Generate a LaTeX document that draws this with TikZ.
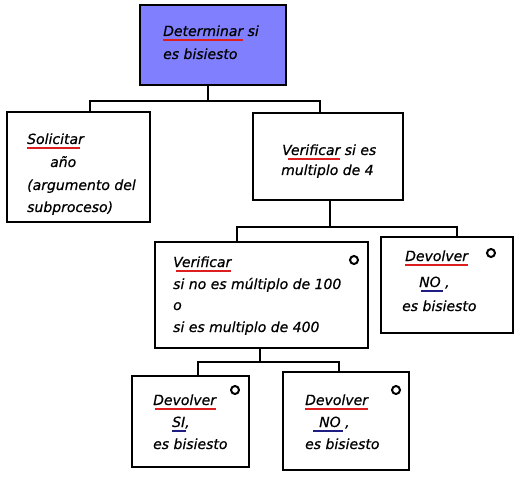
\documentclass[tikz,border=0pt]{standalone}
\usepackage{fontspec}
\setmainfont{DejaVu Sans}[ItalicFeatures={FakeBold=0.6}]
\definecolor{topfill}{RGB}{128,128,255}
\definecolor{ulred}{RGB}{220,30,30}
\definecolor{ulblue}{RGB}{30,30,130}
\newsavebox\ulbox
\newcommand\ulwordx[4]{\sbox\ulbox{#4}\rlap{\hspace*{-#1}\color{#3}\rule[-5.2pt]{\dimexpr\wd\ulbox+#1+#2\relax}{2.3pt}}\usebox\ulbox}
\newcommand\ulword[2]{\ulwordx{0pt}{0pt}{#1}{#2}}
\begin{document}
\begin{tikzpicture}[x=1pt,y=-1pt,
  box/.style={draw, line width=2.6pt, inner sep=0pt},
  conn/.style={line width=2.6pt},
  txt/.style={anchor=base west, inner sep=0pt, font=\fontsize{14}{17}\selectfont\itshape},
  seqmark/.style={draw, circle, line width=2pt, minimum size=8pt, inner sep=0pt}]
\fill[white] (0,0) rectangle (516,478);
\useasboundingbox (0,0) rectangle (516,478);

% boxes
\node[box, fill=topfill, minimum width=146pt, minimum height=80pt] (top) at (213,45) {};
\node[box, minimum width=143pt, minimum height=110pt] (left) at (78.5,167) {};
\node[box, minimum width=150pt, minimum height=87pt] (verif4) at (328,156.5) {};
\node[box, minimum width=213pt, minimum height=106pt] (verifno) at (261.5,295) {};
\node[box, minimum width=132pt, minimum height=96pt] (devno1) at (447,285) {};
\node[box, minimum width=117pt, minimum height=91pt] (devsi) at (190.5,421.5) {};
\node[box, minimum width=126pt, minimum height=98pt] (devno2) at (346,421) {};

% connectors
\coordinate (b1c) at (208,101);
\coordinate (b1l) at (90,101);
\coordinate (b1r) at (320,101);
\draw[conn] (top.south -| b1c) -- (b1c);
\draw[conn] (left.north -| b1l) -- (b1l) -- (b1r) -- (verif4.north -| b1r);

\coordinate (b2c) at (330,227);
\coordinate (b2l) at (237,227);
\coordinate (b2r) at (457,227);
\draw[conn] (verif4.south -| b2c) -- (b2c);
\draw[conn] (verifno.north -| b2l) -- (b2l) -- (b2r) -- (devno1.north -| b2r);

\coordinate (b3c) at (260,362);
\coordinate (b3l) at (198,362);
\coordinate (b3r) at (339,362);
\draw[conn] (verifno.south -| b3c) -- (b3c);
\draw[conn] (devsi.north -| b3l) -- (b3l) -- (b3r) -- (devno2.north -| b3r);

% selection marks
\node[seqmark] (m1) at (354,260) {};
\node[seqmark] (m2) at (491,253) {};
\node[seqmark] (m3) at (235,390) {};
\node[seqmark] (m4) at (396,390) {};

% texts
\node[txt] (t1) at (163,36) {\ulword{ulred}{Determinar} si};
\node[txt] (t2) at (163,59) {es bisiesto};

\node[txt] (s1) at (27,144) {\ulwordx{0pt}{-4pt}{ulred}{Solicitar}};
\node[txt] (s2) at (50,167) {año};
\node[txt] (s3) at (27,190) {(argumento del};
\node[txt] (s4) at (27,212) {subproceso)};

\node[txt] (v1) at (282,155) {\ulwordx{-6pt}{0pt}{ulred}{Verificar} si es};
\node[txt] (v2) at (281,175) {multiplo de 4};

\node[txt] (w1) at (173,267) {\ulwordx{-3pt}{0pt}{ulred}{Verificar}};
\node[txt] (w2) at (173,289) {si no es múltiplo de 100};
\node[txt] (w3) at (173,310) {o};
\node[txt] (w4) at (173,332) {si es multiplo de 400};

\node[txt] (n1) at (405,261) {\ulword{ulred}{Devolver}};
\node[txt] (n2) at (419,287) {\ulwordx{-2pt}{2pt}{ulblue}{NO} ,};
\node[txt] (n3) at (402,311) {es bisiesto};

\node[txt] (a1) at (153,405) {\ulwordx{-2pt}{0pt}{ulred}{Devolver}};
\node[txt] (a2) at (172,427) {\ulwordx{0pt}{1pt}{ulblue}{SI},};
\node[txt] (a3) at (153,449) {es bisiesto};

\node[txt] (c1) at (305,405) {\ulword{ulred}{Devolver}};
\node[txt] (c2) at (319,427) {\ulwordx{6pt}{2pt}{ulblue}{NO} ,};
\node[txt] (c3) at (305,449) {es bisiesto};
\end{tikzpicture}
\end{document}
